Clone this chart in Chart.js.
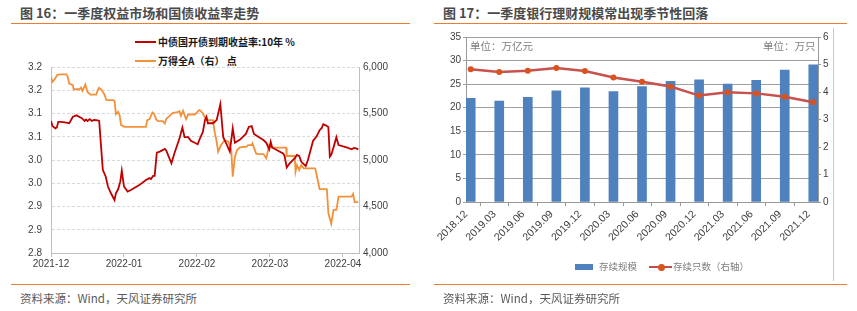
<!DOCTYPE html>
<html>
<head>
<meta charset="utf-8">
<script src="https://cdn.jsdelivr.net/npm/chart.js@4.4.0/dist/chart.umd.min.js"></script>
<style>
  body { margin: 0; width: 857px; height: 311px; background: #fff; position: relative; overflow: hidden;
         font-family: "Noto Sans CJK SC", "Liberation Sans", sans-serif; }
  .abs { position: absolute; white-space: nowrap; line-height: 1; }
  .title { top: 6px; font-size: 13px; font-weight: bold; color: #4a4a4a; }
  .rule { position: absolute; height: 1px; background: #ED7D31; }
  .src { top: 293px; font-size: 11.5px; color: #595959; }
  .lg16 { font-size: 10px; font-weight: bold; color: #1a1a1a; }
  .unit { font-size: 10.5px; color: #7f7f7f; }
  .lg17 { font-size: 9.5px; color: #7f7f7f; }
</style>
</head>
<body>
<div class="abs title" style="left:20px">图 16：一季度权益市场和国债收益率走势</div>
<div class="rule" style="left:11px;width:399px;top:23px"></div>
<div class="abs title" style="left:443px">图 17：一季度银行理财规模常出现季节性回落</div>
<div class="rule" style="left:434px;width:413px;top:23px"></div>

<!-- 图16 legend -->
<div class="abs" style="left:135px;top:41px;width:21px;height:2px;background:#C00000"></div>
<div class="abs lg16" style="left:158px;top:37px">中债国开债到期收益率:10年 %</div>
<div class="abs" style="left:135px;top:60px;width:21px;height:2px;background:#F3913B"></div>
<div class="abs lg16" style="left:158px;top:56px">万得全A（右） 点</div>

<div style="position:absolute;left:0;top:30px"><canvas id="c16" width="420" height="250"></canvas></div>
<div style="position:absolute;left:430px;top:28px"><canvas id="c17" width="410" height="250"></canvas></div>

<div class="abs unit" style="left:470px;top:41px">单位：万亿元</div>
<div class="abs unit" style="left:763px;top:41px">单位：万只</div>
<div class="abs" style="left:833px;top:28px;width:1px;height:253px;background:#c8c8c8"></div>

<!-- 图17 legend -->
<div class="abs" style="left:575px;top:264px;width:18px;height:6px;background:#4F81BD"></div>
<div class="abs lg17" style="left:599px;top:262px">存续规模</div>
<div class="abs" style="left:649px;top:266px;width:23px;height:2px;background:#C0504D"></div>
<div class="abs" style="left:658px;top:264px;width:7px;height:7px;border-radius:50%;background:#D9531E"></div>
<div class="abs lg17" style="left:673px;top:262px">存续只数（右轴）</div>

<div class="rule" style="left:11px;width:399px;top:284px"></div>
<div class="rule" style="left:434px;width:413px;top:284px"></div>
<div class="abs src" style="left:20px">资料来源：Wind，天风证券研究所</div>
<div class="abs src" style="left:443px">资料来源：Wind，天风证券研究所</div>

<script>
// 图16: x = months since 2021-12-01
const monthLabels = ['2021-12', '2022-01', '2022-02', '2022-03', '2022-04'];
const yieldTicks = [2.80, 2.85, 2.90, 2.95, 3.00, 3.05, 3.10, 3.15, 3.20];
const yieldTickLabels = ['2.8', '2.9', '2.9', '3.0', '3.0', '3.1', '3.1', '3.2', '3.2'];
const indexTicks = [4000, 4500, 5000, 5500, 6000];

const bondT = [0.00, 0.02, 0.06, 0.08, 0.10, 0.14, 0.23, 0.25, 0.30, 0.35, 0.41, 0.43, 0.46, 0.48, 0.50, 0.53,
  0.56, 0.59, 0.64, 0.66, 0.71, 0.75, 0.78, 0.82, 0.87, 0.89, 0.92, 0.95, 0.97, 1.00, 1.05, 1.10, 1.21, 1.30,
  1.35, 1.37, 1.40, 1.42, 1.45, 1.49, 1.56, 1.58, 1.65, 1.69, 1.76, 1.80, 1.83, 1.88, 1.92, 1.97, 2.01, 2.05,
  2.08, 2.11, 2.13, 2.15, 2.22, 2.27, 2.32, 2.36, 2.40, 2.45, 2.49, 2.52, 2.59, 2.67, 2.71, 2.75, 2.78, 2.84,
  2.91, 2.95, 2.99, 3.01, 3.03, 3.11, 3.18, 3.20, 3.23, 3.27, 3.34, 3.37, 3.40, 3.43, 3.49, 3.52, 3.59, 3.64,
  3.68, 3.71, 3.73, 3.77, 3.80, 3.82, 3.84, 3.88, 3.91, 3.94, 4.05, 4.12, 4.15, 4.18, 4.21];
const bondYield = [3.084, 3.073, 3.068, 3.070, 3.082, 3.082, 3.080, 3.079, 3.093, 3.096, 3.091, 3.089, 3.084,
  3.087, 3.084, 3.088, 3.084, 3.086, 3.085, 3.084, 2.979, 2.964, 2.943, 2.929, 2.914, 2.929, 2.937, 2.954,
  2.977, 2.943, 2.932, 2.936, 2.946, 2.957, 2.961, 2.959, 2.966, 2.966, 3.016, 3.018, 3.024, 3.020, 2.993,
  3.014, 3.046, 3.070, 3.049, 3.049, 3.041, 3.037, 3.034, 3.050, 3.060, 3.086, 3.093, 3.079, 3.079, 3.086,
  3.120, 3.049, 3.036, 3.018, 3.068, 3.037, 3.044, 3.056, 3.071, 3.073, 3.056, 3.050, 3.043, 3.037, 3.023,
  3.039, 3.027, 3.020, 3.014, 3.009, 2.984, 2.993, 3.004, 3.011, 3.009, 2.996, 2.987, 3.000, 3.041, 3.051,
  3.064, 3.069, 3.077, 3.074, 3.071, 3.007, 3.011, 3.032, 3.049, 3.032, 3.027, 3.023, 3.026, 3.025, 3.023];

const indexT = [0.00, 0.02, 0.05, 0.09, 0.16, 0.21, 0.23, 0.25, 0.30, 0.31, 0.39, 0.41, 0.43, 0.47, 0.50, 0.54,
  0.62, 0.64, 0.66, 0.69, 0.73, 0.76, 0.85, 0.87, 0.89, 0.92, 0.94, 0.96, 1.01, 1.30, 1.32, 1.35, 1.39, 1.41,
  1.44, 1.46, 1.53, 1.56, 1.58, 1.62, 1.67, 1.72, 1.76, 1.78, 1.81, 1.85, 1.88, 1.97, 2.03, 2.05, 2.08, 2.13,
  2.22, 2.24, 2.27, 2.29, 2.33, 2.37, 2.40, 2.43, 2.47, 2.49, 2.52, 2.55, 2.59, 2.68, 2.70, 2.75, 2.76, 2.81,
  2.84, 2.91, 2.95, 2.99, 3.02, 3.22, 3.23, 3.34, 3.35, 3.37, 3.40, 3.43, 3.46, 3.62, 3.64, 3.68, 3.78, 3.80,
  3.84, 3.87, 3.91, 3.94, 4.12, 4.14, 4.16, 4.21];
const indexLevel = [5893, 5839, 5868, 5918, 5921, 5921, 5893, 5821, 5804, 5761, 5761, 5779, 5743, 5811, 5732,
  5704, 5704, 5750, 5775, 5757, 5707, 5643, 5643, 5636, 5493, 5518, 5482, 5375, 5357, 5357, 5429, 5439, 5511,
  5500, 5439, 5421, 5418, 5393, 5443, 5471, 5507, 5511, 5525, 5475, 5529, 5439, 5489, 5489, 5536, 5529, 5500,
  5429, 5429, 5311, 5196, 5089, 5161, 5204, 5207, 5196, 5107, 4821, 5036, 5107, 5136, 5143, 5161, 5161, 5179,
  5071, 5064, 5064, 5018, 5161, 5132, 5132, 5043, 5043, 4875, 4946, 4893, 4946, 4911, 4911, 4839, 4686, 4686,
  4429, 4314, 4464, 4464, 4607, 4607, 4636, 4546, 4546];

// 图17
const periods = ['2018.12', '2019.03', '2019.06', '2019.09', '2019.12', '2020.03', '2020.06', '2020.09',
  '2020.12', '2021.03', '2021.06', '2021.09', '2021.12'];
const wmpScale = [22.0, 21.4, 22.2, 23.6, 24.2, 23.4, 24.5, 25.6, 25.9, 25.0, 25.8, 28.0, 29.1];
const wmpCount = [4.83, 4.73, 4.77, 4.87, 4.76, 4.53, 4.37, 4.20, 3.87, 3.99, 3.95, 3.83, 3.63];

const toPts = (xs, ys) => xs.map((x, i) => ({ x: x, y: ys[i] }));
const fixW = w => s => { s.width = w; };
const fixH = h => s => { s.height = h; };

Chart.defaults.font.family = '"Liberation Sans", Arial, sans-serif';
Chart.defaults.color = '#404040';

new Chart(document.getElementById('c16'), {
  type: 'line',
  data: {
    datasets: [
      { data: toPts(bondT, bondYield), borderColor: '#C00000', borderWidth: 1.8, pointRadius: 0, yAxisID: 'y' },
      { data: toPts(indexT, indexLevel), borderColor: '#F3913B', borderWidth: 1.8, pointRadius: 0, yAxisID: 'y1' }
    ]
  },
  options: {
    responsive: false, animation: false, devicePixelRatio: 1,
    layout: { padding: { top: 37, left: 0, right: 0, bottom: 0 } },
    plugins: { legend: { display: false }, tooltip: { enabled: false } },
    scales: {
      x: {
        type: 'linear', min: 0, max: 4.22,
        afterBuildTicks: s => { s.ticks = monthLabels.map((_, i) => ({ value: i })); },
        afterFit: fixH(27),
        ticks: { callback: (v, i) => monthLabels[i], autoSkip: false, maxRotation: 0, padding: 1, font: { size: 10 } },
        grid: { drawOnChartArea: false, tickLength: 4, color: '#bfbfbf' },
        border: { color: '#bfbfbf' }
      },
      y: {
        min: 2.8, max: 3.2,
        afterBuildTicks: s => { s.ticks = yieldTicks.map(v => ({ value: v })); },
        afterFit: fixW(51),
        ticks: { callback: (v, i) => yieldTickLabels[i], padding: 9, font: { size: 10 } },
        grid: { color: '#d9d9d9', drawTicks: false },
        border: { color: '#bfbfbf', dash: [3, 2] }
      },
      y1: {
        position: 'right', min: 4000, max: 6000,
        afterBuildTicks: s => { s.ticks = indexTicks.map(v => ({ value: v })); },
        afterFit: fixW(61),
        ticks: { callback: v => v.toLocaleString('en-US'), padding: 4, font: { size: 10 } },
        grid: { drawOnChartArea: false, drawTicks: false },
        border: { color: '#bfbfbf' }
      }
    }
  }
});

// 刻度在柱子左边缘
const tickShift = 0.165;

new Chart(document.getElementById('c17'), {
  type: 'bar',
  data: {
    datasets: [
      {
        type: 'line', data: toPts(periods.map((_, i) => i), wmpCount), yAxisID: 'y1', order: 1,
        borderColor: '#C9504D', borderWidth: 2.5, pointRadius: 3, pointBackgroundColor: '#D9531E',
        pointBorderColor: '#D9531E', pointBorderWidth: 0
      },
      {
        data: toPts(periods.map((_, i) => i), wmpScale), yAxisID: 'y', order: 2,
        backgroundColor: '#4F81BD', barThickness: 9
      }
    ]
  },
  options: {
    responsive: false, animation: false, devicePixelRatio: 1,
    layout: { padding: { top: 9, left: 0, right: 0, bottom: 0 } },
    plugins: { legend: { display: false }, tooltip: { enabled: false } },
    scales: {
      x: {
        type: 'linear', min: -tickShift, max: periods.length - 1 + tickShift, offset: false,
        afterBuildTicks: s => { s.ticks = periods.map((_, i) => ({ value: i - tickShift })); },
        afterFit: fixH(76),
        ticks: { callback: (v, i) => periods[i], autoSkip: false, minRotation: 45, maxRotation: 45, padding: 2, font: { size: 10.5 } },
        grid: { drawOnChartArea: false, tickLength: 4, color: '#999' },
        border: { color: '#999' }
      },
      y: {
        min: 0, max: 35, ticks: { stepSize: 5, padding: 2, font: { size: 10 } },
        afterFit: fixW(36),
        grid: { color: '#a0a0a0', tickLength: 3 },
        border: { color: '#999' }
      },
      y1: {
        position: 'right', min: 0, max: 6, ticks: { stepSize: 1, padding: 2, font: { size: 10 } },
        afterFit: fixW(22),
        grid: { drawOnChartArea: false, tickLength: 3, color: '#999' },
        border: { color: '#999' }
      }
    }
  }
});
</script>
</body>
</html>
